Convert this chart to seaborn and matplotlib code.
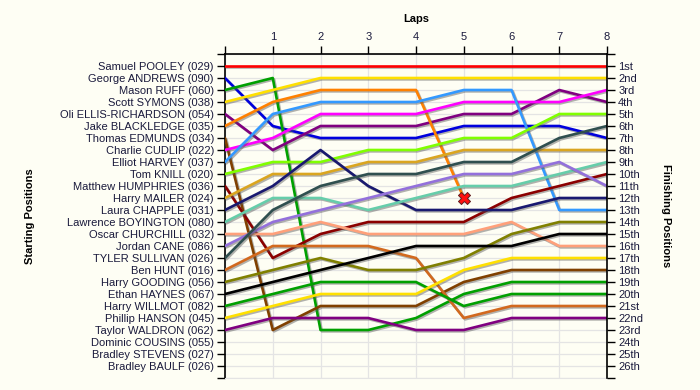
import pandas as pd
import matplotlib
matplotlib.use('Agg')
import matplotlib.pyplot as plt
import matplotlib.patheffects as pe
import seaborn as sns

# drivers in starting order
drivers = ['Samuel POOLEY (029)', 'George ANDREWS (090)', 'Mason RUFF (060)',
           'Scott SYMONS (038)', 'Oli ELLIS-RICHARDSON (054)', 'Jake BLACKLEDGE (035)',
           'Thomas EDMUNDS (034)', 'Charlie CUDLIP (022)', 'Elliot HARVEY (037)',
           'Tom KNILL (020)', 'Matthew HUMPHRIES (036)', 'Harry MAILER (024)',
           'Laura CHAPPLE (031)', 'Lawrence BOYINGTON (080)', 'Oscar CHURCHILL (032)',
           'Jordan CANE (086)', 'TYLER SULLIVAN (026)', 'Ben HUNT (016)',
           'Harry GOODING (056)', 'Ethan HAYNES (067)', 'Harry WILLMOT (082)',
           'Phillip HANSON (045)', 'Taylor WALDRON (062)', 'Dominic COUSINS (055)',
           'Bradley STEVENS (027)', 'Bradley BAULF (026)']

# position at lap 0..8 (None = not running)
positions = {
    'Samuel POOLEY (029)':       [1, 1, 1, 1, 1, 1, 1, 1, 1],
    'George ANDREWS (090)':      [2, 6, 7, 7, 7, 6, 6, 6, 7],
    'Mason RUFF (060)':          [3, 2, 23, 23, 22, 20, 19, 19, 19],
    'Scott SYMONS (038)':        [4, 3, 2, 2, 2, 2, 2, 2, 2],
    'Oli ELLIS-RICHARDSON (054)': [5, 8, 6, 6, 6, 5, 5, 3, 4],
    'Jake BLACKLEDGE (035)':     [6, 4, 3, 3, 3, 12, None, None, None],
    'Thomas EDMUNDS (034)':      [7, 23, 21, 21, 21, 19, 18, 18, 18],
    'Charlie CUDLIP (022)':      [8, 7, 5, 5, 5, 4, 4, 4, 3],
    'Elliot HARVEY (037)':       [9, 5, 4, 4, 4, 3, 3, 13, 13],
    'Tom KNILL (020)':           [10, 9, 9, 8, 8, 7, 7, 5, 5],
    'Matthew HUMPHRIES (036)':   [11, 17, 15, 14, 14, 14, 12, 11, 10],
    'Harry MAILER (024)':        [12, 10, 10, 9, 9, 8, 8, 8, 8],
    'Laura CHAPPLE (031)':       [13, 11, 8, 11, 13, 13, 13, 12, 12],
    'Lawrence BOYINGTON (080)':  [14, 12, 12, 13, 12, 11, 11, 10, 9],
    'Oscar CHURCHILL (032)':     [15, 15, 14, 15, 15, 15, 14, 16, 16],
    'Jordan CANE (086)':         [16, 14, 13, 12, 11, 10, 10, 9, 11],
    'TYLER SULLIVAN (026)':      [17, 13, 11, 10, 10, 9, 9, 7, 6],
    'Ben HUNT (016)':            [18, 16, 16, 16, 17, 22, 21, 21, 21],
    'Harry GOODING (056)':       [19, 18, 17, 18, 18, 17, 15, 14, 14],
    'Ethan HAYNES (067)':        [20, 19, 18, 17, 16, 16, 16, 15, 15],
    'Harry WILLMOT (082)':       [21, 20, 19, 19, 19, 21, 20, 20, 20],
    'Phillip HANSON (045)':      [22, 21, 20, 20, 20, 18, 17, 17, 17],
    'Taylor WALDRON (062)':      [23, 22, 22, 22, 23, 23, 22, 22, 22],
}

colors = {
    'Samuel POOLEY (029)': '#ff0000', 'George ANDREWS (090)': '#0000dd',
    'Mason RUFF (060)': '#00a000', 'Scott SYMONS (038)': '#ffe000',
    'Oli ELLIS-RICHARDSON (054)': '#800080', 'Jake BLACKLEDGE (035)': '#ff8000',
    'Thomas EDMUNDS (034)': '#804000', 'Charlie CUDLIP (022)': '#ff00ff',
    'Elliot HARVEY (037)': '#3399ff', 'Tom KNILL (020)': '#80ff00',
    'Matthew HUMPHRIES (036)': '#8b0000', 'Harry MAILER (024)': '#daa520',
    'Laura CHAPPLE (031)': '#191970', 'Lawrence BOYINGTON (080)': '#66cdaa',
    'Oscar CHURCHILL (032)': '#ffa07a', 'Jordan CANE (086)': '#9370db',
    'TYLER SULLIVAN (026)': '#2f4f4f', 'Ben HUNT (016)': '#d2691e',
    'Harry GOODING (056)': '#808000', 'Ethan HAYNES (067)': '#000000',
    'Harry WILLMOT (082)': '#00a000', 'Phillip HANSON (045)': '#ffe000',
    'Taylor WALDRON (062)': '#800080',
}

laps = list(range(0, 9))
finish_labels = ['1st', '2nd', '3rd'] + [f'{i}th' for i in range(4, 21)] + \
                ['21st', '22nd', '23rd', '24th', '25th', '26th']

# retirement marker
retired_lap = [5]
retired_pos = [12]

rows = []
for name, pos in positions.items():
    for lap, p in zip(laps, pos):
        if p is not None:
            rows.append({'driver': name, 'lap': lap, 'pos': p})
df = pd.DataFrame(rows)

sns.set_style('white')
plt.rcParams['font.family'] = ['Liberation Sans', 'DejaVu Sans']
bg = '#fefef4'
txt = '#1a1a3c'

fig = plt.figure(figsize=(7, 3.9), dpi=100, facecolor=bg)
ax = fig.add_axes([225 / 700, 1 - 378 / 390, 382 / 700, 324 / 390])
ax.set_facecolor(bg)

sns.lineplot(data=df, x='lap', y='pos', hue='driver', palette=colors,
             hue_order=list(positions.keys()), sort=False, estimator=None,
             linewidth=1.9, legend=False, ax=ax, zorder=3)
for line in ax.lines:
    line.set_path_effects([pe.SimpleLineShadow(offset=(1, -1), shadow_color='#555555', alpha=0.45),
                           pe.Normal()])

sns.scatterplot(x=retired_lap, y=retired_pos, marker='X', s=75, color='#ff1010',
                edgecolor='#602020', linewidth=0.7, ax=ax, zorder=5)

ax.set_xlim(0, 8)
ax.set_ylim(27, 0)
ax.grid(True, color='#e4e4e4', linewidth=0.9, zorder=0)
ax.set_axisbelow(True)

ax.xaxis.tick_top()
ax.set_xticks(laps)
ax.set_xticklabels([''] + [str(l) for l in laps[1:]])
ax.set_yticks(range(0, 28))
ax.set_yticklabels([''] + drivers + [''])
ax.tick_params(axis='both', length=6, width=1, color='black', labelsize=8,
               labelcolor=txt, pad=2)
ax.tick_params(axis='x', pad=3)
ax.set_xlabel('')
ax.set_ylabel('')

for s in ['left', 'top']:
    ax.spines[s].set_color('black')
    ax.spines[s].set_linewidth(1.2)
ax.spines['bottom'].set_color('#e4e4e4')
ax.spines['right'].set_visible(False)

ax2 = ax.twinx()
ax2.set_ylim(27, 0)
ax2.set_yticks(range(0, 28))
ax2.set_yticklabels([''] + finish_labels + [''])
ax2.tick_params(axis='y', length=6, width=1, color='black', labelsize=8,
                labelcolor=txt, pad=2)
for s in ['left', 'top', 'bottom']:
    ax2.spines[s].set_visible(False)
ax2.spines['right'].set_color('black')
ax2.spines['right'].set_linewidth(1.2)

fig.text(416 / 700, 1 - 19 / 390, 'Laps', ha='center', va='center',
         fontsize=8, fontweight='bold', color='black')
fig.text(30 / 700, 1 - 216 / 390, 'Starting Positions', ha='center', va='center',
         rotation=90, fontsize=8, fontweight='bold', color='black')
fig.text(666 / 700, 1 - 216 / 390, 'Finishing Positions', ha='center', va='center',
         rotation=-90, fontsize=8, fontweight='bold', color='black')

fig.savefig('out.png', dpi=100, facecolor=bg)
